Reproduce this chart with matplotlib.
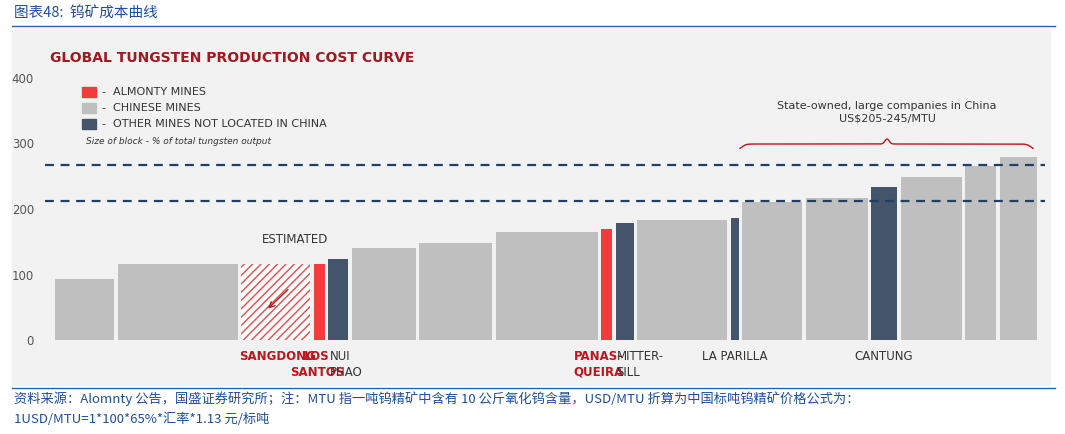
import matplotlib
matplotlib.use("Agg")
import matplotlib.pyplot as plt
from matplotlib.patches import Rectangle
import numpy as np

plt.rcParams['font.family'] = ['DejaVu Sans', 'Noto Sans CJK SC']

widths = [59,120,69,11,20,64,73,102,11,18,90,8,60,62,26,61,31,37]
costs = [93,116,116,116,124,140,148,165,170,179,183,186,211,217,234,249,266,280]
kinds = ['c','c','h','r','o','c','c','c','r','o','c','o','c','c','o','c','c','c']
labels = {2:'SANGDONG', 3:'LOS\nSANTOS', 4:'NUI\nPHAO', 8:'PANAS-\nQUEIRA', 9:'MITTER-\nSILL', 11:'LA PARILLA', 14:'CANTUNG'}
dashed = [212, 267]
yticks = [0,100,200,300,400]

W, H = 1065, 434
fig = plt.figure(figsize=(W/100, H/100), dpi=100)
def px(x, y): return (x/W, 1-y/H)

fig.patches.append(Rectangle(px(12, 385), (1050-12)/W, (385-30)/H, transform=fig.transFigure, color='#f2f2f2', zorder=-10))
fig.add_artist(plt.Line2D([12/W, 1055/W], [1-26/H]*2, color='#3060a8', lw=1))
fig.add_artist(plt.Line2D([12/W, 1055/W], [1-388/H]*2, color='#3060a8', lw=1))
fig.text(*px(14, 14), '图表48:  钨矿成本曲线', color='#1f4e9a', fontsize=10.5, style='italic', va='center', family=['Noto Sans CJK SC'])
fig.text(*px(14, 399), '资料来源：Alomnty 公告，国盛证券研究所；注：MTU 指一吨钨精矿中含有 10 公斤氧化钨含量，USD/MTU 折算为中国标吨钨精矿价格公式为：',
         color='#1f4e9a', fontsize=9.5, style='italic', va='center', family=['Noto Sans CJK SC'])
fig.text(*px(14, 419), '1USD/MTU=1*100*65%*汇率*1.13 元/标吨', color='#1f4e9a', fontsize=9.5, style='italic', va='center', family=['Noto Sans CJK SC'])

ax = fig.add_axes([45/W, 1-340/H, 1000/W, 262/H])
ax.set_facecolor('none')
ax.set_xlim(45, 1045); ax.set_ylim(0, 400)
colors = {'c':'#bfbfbf', 'r':'#f03c3c', 'o':'#44546a', 'h':'white'}
x = 55.0
centers = []
for w, c, k in zip(widths, costs, kinds):
    if k == 'h':
        ax.bar(x, c, width=w, align='edge', color='white', edgecolor='#e84a4a', hatch='////', lw=0)
    else:
        ax.bar(x, c, width=w, align='edge', color=colors[k], lw=0)
    centers.append(x + w/2)
    x += w + 3.5
for y in dashed:
    ax.axhline(y, color='#1f3f66', ls=(0, (4, 3)), lw=1.6)
ax.set_yticks(yticks)
ax.tick_params(axis='y', length=0, labelsize=8.5, labelcolor='#555555', pad=8)
ax.set_xticks([])
for s in ax.spines.values(): s.set_visible(False)

for i, t in labels.items():
    red = kinds[i] in ('r', 'h')
    left = i in (4, 9)
    xc = centers[i] - 8 if left else centers[i]
    if i == 2: xc = centers[i] + 2
    if i == 3: xc = centers[i] - 2
    if i == 8: xc = centers[i] - 8
    fig.text(*px(xc, 364 if '\n' in t else 357), t, ha='left' if left else 'center', va='center',
             fontsize=8.5, color='#c0141c' if red else '#333333', fontweight='bold' if red else 'normal', linespacing=1.3)
ax.text(295, 148, 'ESTIMATED', ha='center', fontsize=8.5, color='#333333')
ax.annotate('', xy=(266, 45), xytext=(290, 80), arrowprops=dict(arrowstyle='->', color='#c0141c', lw=1))

fig.text(*px(50, 58), 'GLOBAL TUNGSTEN PRODUCTION COST CURVE', fontsize=10, fontweight='bold', color='#a01820', va='center')
for j, (col, t) in enumerate([('#f03c3c', '-  ALMONTY MINES'), ('#bfbfbf', '-  CHINESE MINES'), ('#44546a', '-  OTHER MINES NOT LOCATED IN CHINA')]):
    yy = 92 + j*16
    fig.patches.append(Rectangle(px(82, yy+5), 14/W, 10/H, transform=fig.transFigure, color=col))
    fig.text(*px(102, yy), t, fontsize=8, color='#333333', va='center')
fig.text(*px(86, 141), 'Size of block - % of total tungsten output', fontsize=6.5, style='italic', color='#333333', va='center')
fig.text(*px(887, 112), 'State-owned, large companies in China\nUS$205-245/MTU', fontsize=8, color='#333333', ha='center', va='center', linespacing=1.3)
xs = np.linspace(740, 1033, 400)
mid = 887
ys = 150 - 6*(1/(1+np.exp(-(xs-742)/2)) - 1/(1+np.exp(-(xs-1031)/2))) - 5*np.exp(-((xs-mid)/3)**2)
fig.add_artist(plt.Line2D(xs/W, 1-ys/H, color='#c0141c', lw=1))
fig.savefig('out.png', dpi=100)
